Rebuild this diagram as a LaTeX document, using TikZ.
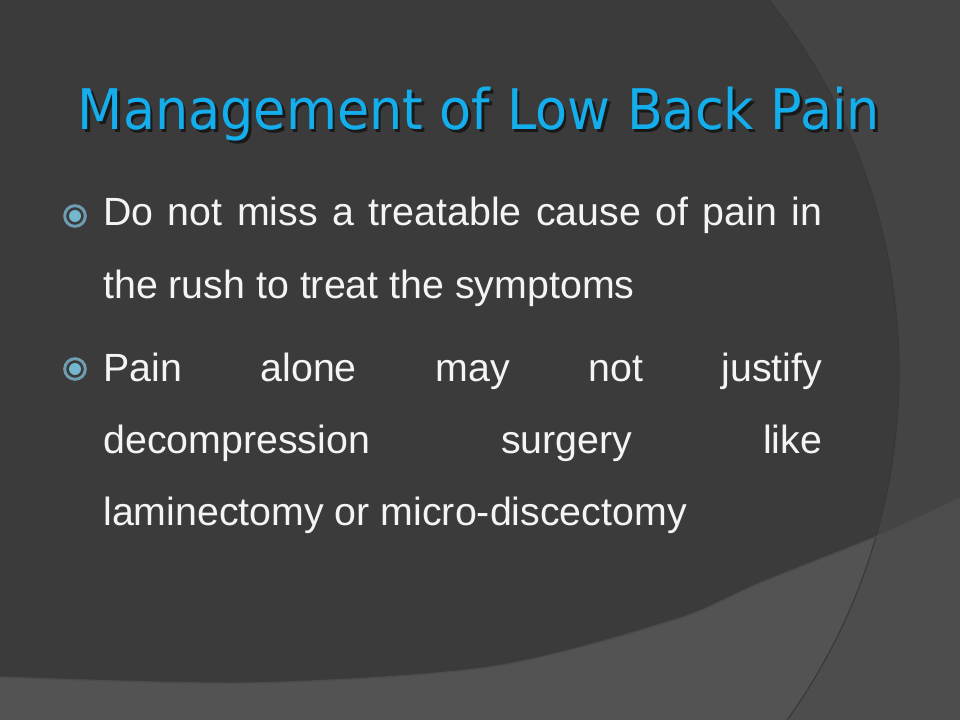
\documentclass[tikz,border=0pt]{standalone}
\usepackage{fontspec}
\setmainfont{Liberation Sans}
\newfontfamily\ttlfont{DejaVu Sans}
\definecolor{bgmain}{HTML}{3B3B3B}
\definecolor{bgside}{HTML}{444444}
\definecolor{bglow}{HTML}{535353}
\definecolor{bgcorner}{HTML}{4D4D4D}
\definecolor{ttlblue}{HTML}{14AEEC}
\definecolor{ringc}{HTML}{6F9DB2}
\definecolor{dotc}{HTML}{74B6CE}
\definecolor{txtc}{HTML}{F4F4F4}

\begin{document}
\begin{tikzpicture}[x=0.75pt,y=-0.75pt,
  ttl/.style={anchor=base,inner sep=0pt,text=ttlblue,font=\ttlfont\fontsize{42}{50}\selectfont},
  bul/.style={draw=ringc,circle,line width=2.2pt,minimum size=15.5pt,inner sep=0pt},
  txt/.style={anchor=base west,inner sep=0pt,text=txtc,font=\fontsize{29.5}{34}\selectfont}]
\useasboundingbox (0,0) rectangle (960,720);

% background
\fill[bgside] (0,0) rectangle (960,720);
\begin{scope}
\clip (0,0) rectangle (960,720);
\fill[bgmain] (302,372) circle (597);
\end{scope}
\begin{scope}
\clip plot[smooth] coordinates {(0,677) (250,683) (490,667) (674,620) (760,583) (880,535) (960,498)} -- (960,720) -- (0,720) -- cycle;
\fill[bglow] (0,0) rectangle (960,720);
\fill[bgcorner,even odd rule] (0,0) rectangle (960,720) (302,372) circle (597);
\end{scope}
\begin{scope}
\clip (0,0) rectangle (960,720);
\draw[black!78,line width=0.8pt] (302,372) circle (597);
\end{scope}
\draw[black!70,line width=1pt] plot[smooth] coordinates {(0,677) (250,683) (490,667) (674,620) (760,583) (880,535) (960,498)};

% title
\node[ttl,text=black!90](ts) at (481.5,132.5) {\scalebox{0.936}[1]{Management of Low Back Pain}};
\node[ttl](t) at (479,130) {\scalebox{0.936}[1]{Management of Low Back Pain}};

% bullets
\node[bul](b1) at (75,216) {};
\fill[dotc] (b1) circle (6);
\node[bul](b2) at (75,369) {};
\fill[dotc] (b2) circle (6);

% text lines
\node[txt](l11) at (103,226) {\makebox[539.25pt][s]{Do not miss a treatable cause of pain in}};
\node[txt](l12) at (103,298) {the rush to treat the symptoms};
\node[txt](l21) at (103,381) {\makebox[539.25pt][s]{Pain alone may not justify}};
\node[txt](l22) at (103,453) {\makebox[539.25pt][s]{decompression surgery like}};
\node[txt](l23) at (103,525) {laminectomy or micro-discectomy};
\end{tikzpicture}
\end{document}
